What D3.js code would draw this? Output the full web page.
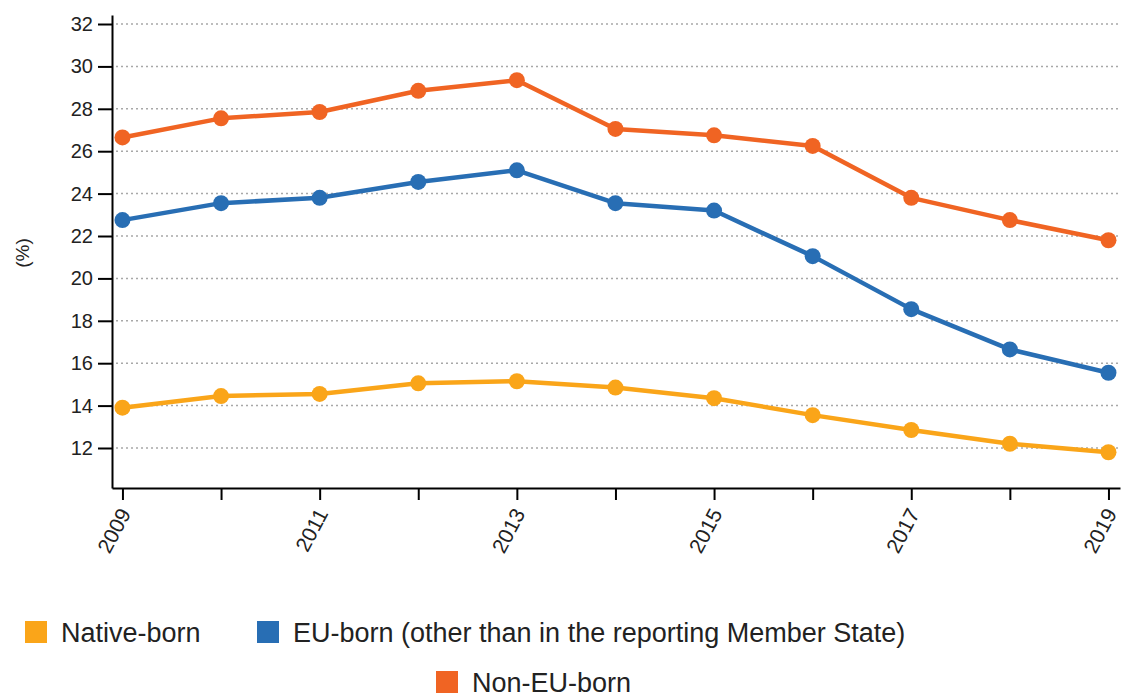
<!DOCTYPE html>
<html lang="en">
  <head>
    <meta charset="utf-8">
    <title>Share by country of birth</title>
    <script src="https://d3js.org/d3.v7.js"></script>
    <style>
      body {
        margin: 0;
        background: #fff;
      }
      * {
        font-family: "Liberation Sans", Arial, sans-serif;
      }
    </style>
  </head>
  <body>
    <script type="text/javascript">
      // data
      var years = [2009, 2010, 2011, 2012, 2013, 2014, 2015, 2016, 2017, 2018, 2019];
      var nativeBorn = [13.9, 14.45, 14.55, 15.05, 15.15, 14.85, 14.35, 13.55, 12.85, 12.2, 11.8];
      var euBorn = [22.75, 23.55, 23.8, 24.55, 25.1, 23.55, 23.2, 21.05, 18.55, 16.65, 15.55];
      var nonEuBorn = [26.65, 27.55, 27.85, 28.85, 29.35, 27.05, 26.75, 26.25, 23.8, 22.75, 21.8];
      var seriesNames = ["Native-born", "EU-born (other than in the reporting Member State)", "Non-EU-born"];
      var seriesColors = ["#faa519", "#286eb4", "#f06423"];
      var yTicks = [12, 14, 16, 18, 20, 22, 24, 26, 28, 30, 32];
      var xLabelYears = [2009, 2011, 2013, 2015, 2017, 2019];

      var w = 1124;
      var h = 698;
      var axisLeftX = 112;
      var axisRightX = 1120;
      var axisBottomY = 488;
      var axisTopY = 15;

      var series = [nativeBorn, euBorn, nonEuBorn].map(function (vals, i) {
        return {
          name: seriesNames[i],
          color: seriesColors[i],
          values: vals.map(function (v, j) { return {year: years[j], value: v}; })
        };
      });

      var svg = d3.select("body")
          .append("svg")
          .attr("width", w)
          .attr("height", h);

      // scales
      var xScale = d3.scaleLinear()
          .domain([2008.894, 2019.117])
          .range([axisLeftX, axisRightX]);

      var yScale = d3.scaleLinear()
          .domain([10.113, 32.425])
          .range([axisBottomY, axisTopY]);

      // grid lines
      svg.append("g")
          .attr("class", "grid")
          .selectAll("line")
          .data(yTicks)
          .enter().append("line")
          .attr("x1", axisLeftX + 4)
          .attr("x2", axisRightX)
          .attr("y1", d => yScale(d))
          .attr("y2", d => yScale(d))
          .style("stroke", "#a8a8a8")
          .style("stroke-width", 1.5)
          .style("stroke-dasharray", "2,3");

      // axes
      var yAxis = d3.axisLeft(yScale)
          .tickValues(yTicks)
          .tickSize(14)
          .tickSizeOuter(0)
          .tickPadding(5);

      var xAxis = d3.axisBottom(xScale)
          .tickValues(years)
          .tickSize(12)
          .tickSizeOuter(0)
          .tickFormat(d => xLabelYears.indexOf(d) >= 0 ? d : "");

      var gy = svg.append("g")
          .attr("class", "yAxis")
          .attr("transform", `translate(${axisLeftX}, 0)`)
          .call(yAxis);

      var gx = svg.append("g")
          .attr("class", "xAxis")
          .attr("transform", `translate(0, ${axisBottomY})`)
          .call(xAxis);

      [gx, gy].forEach(function (g) {
        g.selectAll("path, line")
            .style("stroke", "#000")
            .style("stroke-width", 2);
        g.selectAll("text")
            .style("font-size", "20px")
            .style("fill", "#222");
      });

      gx.selectAll("text")
          .attr("x", 0)
          .attr("y", 0)
          .attr("dy", "0.35em")
          .attr("text-anchor", "end")
          .style("font-size", "21px")
          .attr("transform", "translate(2, 22) rotate(-62)");

      // y axis label
      svg.append("text")
          .attr("transform", "translate(29, 253) rotate(-90)")
          .attr("text-anchor", "middle")
          .style("font-size", "19px")
          .style("fill", "#222")
          .text("(%)");

      // lines and points
      var line = d3.line()
          .x(d => xScale(d.year))
          .y(d => yScale(d.value));

      var plot = svg.append("g").attr("id", "plot");

      series.forEach(function (s) {
        plot.append("path")
            .datum(s.values)
            .attr("d", line)
            .attr("fill", "none")
            .attr("stroke", s.color)
            .attr("stroke-width", 4.5)
            .attr("stroke-linejoin", "round");

        plot.selectAll(null)
            .data(s.values)
            .enter().append("circle")
            .attr("cx", d => xScale(d.year))
            .attr("cy", d => yScale(d.value))
            .attr("r", 8)
            .attr("fill", s.color);
      });

      // legend
      var legendPos = [[25, 621], [257, 621], [436, 671]];
      var legend = svg.append("g").attr("class", "legend");

      series.forEach(function (s, i) {
        var item = legend.append("g")
            .attr("transform", `translate(${legendPos[i][0]}, ${legendPos[i][1]})`);
        item.append("rect")
            .attr("width", 22)
            .attr("height", 22)
            .attr("fill", s.color);
        item.append("text")
            .attr("x", 36)
            .attr("y", 21)
            .style("font-size", "27px")
            .style("fill", "#222")
            .text(s.name);
      });
    </script>
  </body>
</html>
